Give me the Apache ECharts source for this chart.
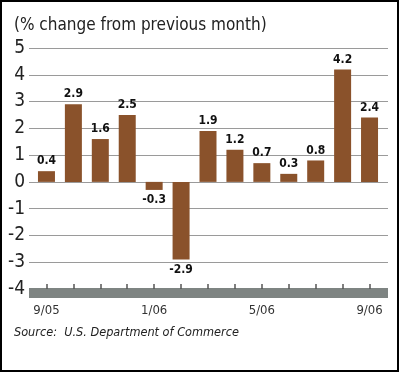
<!DOCTYPE html>
<html>
<head>
<meta charset="utf-8">
<script src="https://cdn.jsdelivr.net/npm/echarts@6/dist/echarts.min.js"></script>
<style>
html,body{margin:0;padding:0;background:#fff;}
#c{width:400px;height:373px;}
</style>
</head>
<body>
<div id="c"></div>
<script>
const categories = ['9/05','10/05','11/05','12/05','1/06','2/06','3/06','4/06','5/06','6/06','7/06','8/06','9/06'];
const values = [0.4, 2.9, 1.6, 2.5, -0.3, -2.9, 1.9, 1.2, 0.7, 0.3, 0.8, 4.2, 2.4];
const yTicks = [-4, -3, -2, -1, 0, 1, 2, 3, 4, 5];
const titleText = '(% change from previous month)';
const sourceText = 'Source:  U.S. Department of Commerce';

const FONT = '"DejaVu Sans Condensed", "Liberation Sans Narrow", sans-serif';
const chart = echarts.init(document.getElementById('c'), null, {renderer: 'canvas'});

chart.setOption({
  animation: false,
  backgroundColor: '#fff',
  title: [
    {text: titleText, left: 9, top: 12,
     textStyle: {fontFamily: FONT, fontSize: 17, fontWeight: 'normal', color: '#222'}},
    {text: sourceText, left: 9, top: 321,
     textStyle: {fontFamily: FONT, fontSize: 12.6, fontStyle: 'italic', fontWeight: 'normal', color: '#222'}}
  ],
  grid: [
    {left: 29, right: 12, top: 48, bottom: 84},
    {left: 33, right: 17, top: 48, bottom: 84}
  ],
  xAxis: [
    {type: 'category', gridIndex: 0, data: categories, offset: 4, z: 5,
     axisLine: {show: true, onZero: false, lineStyle: {color: '#7e8482', width: 10, cap: 'butt'}},
     axisTick: {show: false}, axisLabel: {show: false}, splitLine: {show: false}},
    {type: 'category', gridIndex: 1, data: categories, z: 6,
     axisLine: {show: false, onZero: false},
     axisTick: {show: true, inside: true, length: 5, alignWithLabel: true, interval: 0,
                lineStyle: {color: '#555', width: 1.5}},
     axisLabel: {interval: 3, margin: 15, fontFamily: FONT, fontSize: 13, color: '#333'},
     splitLine: {show: false}}
  ],
  yAxis: [
    {type: 'value', gridIndex: 0, min: yTicks[0], max: yTicks[yTicks.length - 1], interval: 1,
     axisLine: {show: false}, axisTick: {show: false},
     axisLabel: {margin: 4, fontFamily: FONT, fontSize: 19, color: '#222'},
     splitLine: {show: true, lineStyle: {color: '#9a9a9a', width: 1}}},
    {type: 'value', gridIndex: 1, min: yTicks[0], max: yTicks[yTicks.length - 1], interval: 1,
     show: false, splitLine: {show: false}}
  ],
  series: [{
    type: 'bar', xAxisIndex: 1, yAxisIndex: 1, data: values.map(v => ({
      value: v,
      label: {position: v < 0 ? 'bottom' : 'top'}
    })),
    barWidth: 17,
    itemStyle: {color: '#8a522b'},
    label: {show: true, distance: 4, fontFamily: FONT, fontSize: 12, fontWeight: 'bold', color: '#111',
            formatter: p => p.value.toFixed(1)}
  }],
  graphic: [{
    type: 'rect', shape: {x: 1, y: 1, width: 397, height: 370},
    style: {fill: 'none', stroke: '#000', lineWidth: 2}, z: 100
  }]
});
</script>
</body>
</html>
